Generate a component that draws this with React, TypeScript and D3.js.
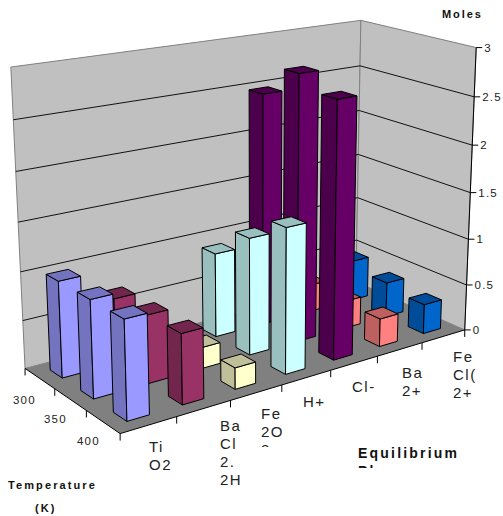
import React from "react";
import * as d3 from "d3";

// Bar heights in moles: one row per compound, one column per temperature.
const species = ["TiO2", "BaCl2.2H2O", "Fe2O3", "H+", "Cl-", "Ba2+", "FeCl(2+)"];
const temperatures = [300, 350, 400];
const tio2 = [0.99, 0.99, 0.99];
const bacl2 = [0.68, 0.7, 0.71];
const fe2o3 = [0.1, 0.22, 0.22];
const hPlus = [0.9, 1.23, 1.5];
const clMinus = [2.48, 2.8, 2.66];
const ba2 = [0.3, 0.3, 0.3];
const fecl = [0.45, 0.38, 0.32];
const heights = [tio2, bacl2, fe2o3, hPlus, clMinus, ba2, fecl];
const valueTicks = [0, 0.5, 1, 1.5, 2, 2.5, 3];

const frontColors = ["#9999FF", "#993366", "#FFFFCC", "#CCFFFF", "#660066", "#FF8080", "#0066CC"];
const sideColors = ["#7373BF", "#73264D", "#BFBF99", "#99BFBF", "#4C004C", "#BF6060", "#004C99"];

const categoryLabels = [["Ti", "O2"], ["Ba", "Cl", "2.", "2H", "2"], ["Fe", "2O", "3"], ["H+"], ["Cl-"], ["Ba", "2+"], ["Fe", "Cl(", "2+"]];
const labelAnchors = [[149, 452], [220, 431], [261, 419], [303, 407], [352, 392], [402, 378], [453, 362]];

// Reference points of the box: [category, depth, value] and where each falls on screen.
const boxPoints: [number, number, number, number, number][] = [
  [0, 0, 0, 24, 367],
  [0, 1, 0, 55, 390],
  [0, 2, 0, 87, 412],
  [0, 3, 0, 120.7, 431.7],
  [1, 3, 0, 176.7, 416.7],
  [4, 3, 0, 330, 371.7],
  [7, 3, 0, 464, 330],
  [7, 0, 0, 357, 281],
  [0, 0, 3, 11, 67],
  [0, 0, 1.5, 18, 222],
  [7, 0, 3, 360, 21],
  [7, 0, 1.5, 358.7, 155],
  [7, 3, 3, 477, 47],
  [7, 3, 1.5, 470, 192],
];

// Least-squares fit of a 3x4 projective camera through the reference points.
function fitCamera(points: typeof boxPoints): number[] {
  const n = 11;
  const A = d3.range(n).map(() => new Array(n + 1).fill(0));
  const addRow = (row: number[], rhs: number) => {
    for (let i = 0; i < n; i++) {
      for (let j = 0; j < n; j++) A[i][j] += row[i] * row[j];
      A[i][n] += row[i] * rhs;
    }
  };
  for (const [X, Y, Z, px, py] of points) {
    const u = px / 500;
    const v = py / 500;
    addRow([X, Y, Z, 1, 0, 0, 0, 0, -u * X, -u * Y, -u * Z], u);
    addRow([0, 0, 0, 0, X, Y, Z, 1, -v * X, -v * Y, -v * Z], v);
  }
  for (let c = 0; c < n; c++) {
    let pivot = c;
    for (let r = c + 1; r < n; r++) if (Math.abs(A[r][c]) > Math.abs(A[pivot][c])) pivot = r;
    [A[c], A[pivot]] = [A[pivot], A[c]];
    for (let r = 0; r < n; r++) {
      if (r === c) continue;
      const f = A[r][c] / A[c][c];
      for (let k = c; k <= n; k++) A[r][k] -= f * A[c][k];
    }
  }
  return A.map((row, i) => row[n] / row[i]);
}

const cam = fitCamera(boxPoints);
const project = (X: number, Y: number, Z: number): [number, number] => {
  const w = cam[8] * X + cam[9] * Y + cam[10] * Z + 1;
  return [
    (500 * (cam[0] * X + cam[1] * Y + cam[2] * Z + cam[3])) / w,
    (500 * (cam[4] * X + cam[5] * Y + cam[6] * Z + cam[7])) / w,
  ];
};

const poly = d3.line();
const pathOf = (pts: [number, number, number][]) => poly(pts.map((p) => project(p[0], p[1], p[2])))! + "Z";

const xScale = d3.scaleLinear().domain([0, species.length]).range([0, 7]);
const depthScale = d3.scaleLinear().domain([0, temperatures.length]).range([0, 3]);
const BAR = 0.4;
const font = "'Liberation Sans', Arial, sans-serif";
const ink = "#222";

export default function App() {
  const bars = temperatures
    .flatMap((_, s) => species.map((_, c) => ({ c, s })).reverse())
    .map(({ c, s }) => {
      const x0 = xScale(c + 0.5 - BAR / 2);
      const x1 = xScale(c + 0.5 + BAR / 2);
      const y0 = depthScale(s + 0.5 - BAR / 2);
      const y1 = depthScale(s + 0.5 + BAR / 2);
      const h = heights[c][s];
      return { c, s, x0, x1, y0, y1, h };
    });

  return (
    <svg
      width={503}
      height={516}
      style={{ position: "absolute", left: 0, top: 0, background: "#fff" }}
      fontFamily={font}
    >
      <defs>
        <clipPath id="lower-label-clip"><rect x={0} y={0} width={503} height={447} /></clipPath>
        <clipPath id="bacl-label-clip"><rect x={0} y={0} width={503} height={492} /></clipPath>
        <clipPath id="axis-title-clip"><rect x={0} y={0} width={503} height={468} /></clipPath>
        <clipPath id="right-label-clip"><rect x={0} y={0} width={476} height={516} /></clipPath>
      </defs>

      {/* Walls and floor */}
      <path d={pathOf([[0, 0, 0], [7, 0, 0], [7, 0, 3], [0, 0, 3]])} fill="#C0C0C0" stroke="#808080" />
      <path d={pathOf([[7, 0, 0], [7, 3, 0], [7, 3, 3], [7, 0, 3]])} fill="#C0C0C0" stroke="#808080" />
      <path d={pathOf([[0, 0, 0], [7, 0, 0], [7, 3, 0], [0, 3, 0]])} fill="#808080" stroke="none" />

      {/* Gridlines on both walls */}
      {valueTicks.filter((v) => v > 0 && v < 3).map((v) => (
        <path key={v} d={poly([project(0, 0, v), project(7, 0, v), project(7, 3, v)])!} fill="none" stroke="#111" strokeWidth={1} />
      ))}

      {/* Bars, far row first and left-most last in each row */}
      {bars.map((b) => (
        <g key={`${b.c}-${b.s}`} stroke="#000" strokeWidth={1} strokeLinejoin="round">
          <path d={pathOf([[b.x0, b.y0, 0], [b.x0, b.y1, 0], [b.x0, b.y1, b.h], [b.x0, b.y0, b.h]])} fill={sideColors[b.c]} />
          <path d={pathOf([[b.x0, b.y1, 0], [b.x1, b.y1, 0], [b.x1, b.y1, b.h], [b.x0, b.y1, b.h]])} fill={frontColors[b.c]} />
          <path d={pathOf([[b.x0, b.y0, b.h], [b.x1, b.y0, b.h], [b.x1, b.y1, b.h], [b.x0, b.y1, b.h]])} fill={sideColors[b.c]} />
        </g>
      ))}

      {/* Floor edges with ticks */}
      <path d={poly([project(0, 0, 0), project(0, 3, 0), project(7, 3, 0), project(7, 3, 3)])!} fill="none" stroke="#000" strokeWidth={1} />
      {d3.range(0, 8).map((i) => {
        const [x, y] = project(i, 3, 0);
        return <line key={i} x1={x} y1={y} x2={x} y2={y + 7} stroke="#000" />;
      })}
      {d3.range(0, 3).map((i) => {
        const [x, y] = project(0, i, 0);
        return <line key={i} x1={x} y1={y} x2={x} y2={y + 7} stroke="#000" />;
      })}

      {/* Value axis */}
      {valueTicks.map((v) => {
        const [x, y] = project(7, 3, v);
        return (
          <g key={v}>
            <line x1={x} y1={y} x2={x + 6} y2={y} stroke="#000" />
            <text x={x + 8} y={y + 4} fontSize={11.5} letterSpacing={1.2} fill={ink}>{v}</text>
          </g>
        );
      })}

      {/* Temperature labels */}
      {temperatures.map((t, i) => (
        <text key={t} x={[13, 44, 77][i]} y={[404, 423, 445][i]} fontSize={11.5} letterSpacing={1.2} fill={ink}>{t}</text>
      ))}

      {/* Category labels, wrapped and cut off by the chart frame */}
      {categoryLabels.map((lines, i) => (
        <g key={i} clipPath={i === 1 ? "url(#bacl-label-clip)" : i === 2 ? "url(#lower-label-clip)" : i === 6 ? "url(#right-label-clip)" : undefined}>
          {lines.map((line, j) => (
            <text key={j} x={labelAnchors[i][0]} y={labelAnchors[i][1] + j * 18} fontSize={15} letterSpacing={1.5} fill={ink}>{line}</text>
          ))}
        </g>
      ))}

      {/* Axis titles */}
      <text x={442} y={18} fontSize={11} fontWeight="bold" letterSpacing={1.9} fill="#111">Moles</text>
      <text x={8} y={489} fontSize={11} fontWeight="bold" letterSpacing={2.1} fill="#111">Temperature</text>
      <text x={35} y={512} fontSize={11} fontWeight="bold" letterSpacing={2.1} fill="#111">(K)</text>
      <g clipPath="url(#axis-title-clip)">
        <text x={358} y={458} fontSize={14} fontWeight="bold" letterSpacing={2.2} fill="#111">Equilibrium</text>
        <text x={358} y={476} fontSize={14} fontWeight="bold" letterSpacing={2.2} fill="#111">Phase</text>
      </g>
    </svg>
  );
}
